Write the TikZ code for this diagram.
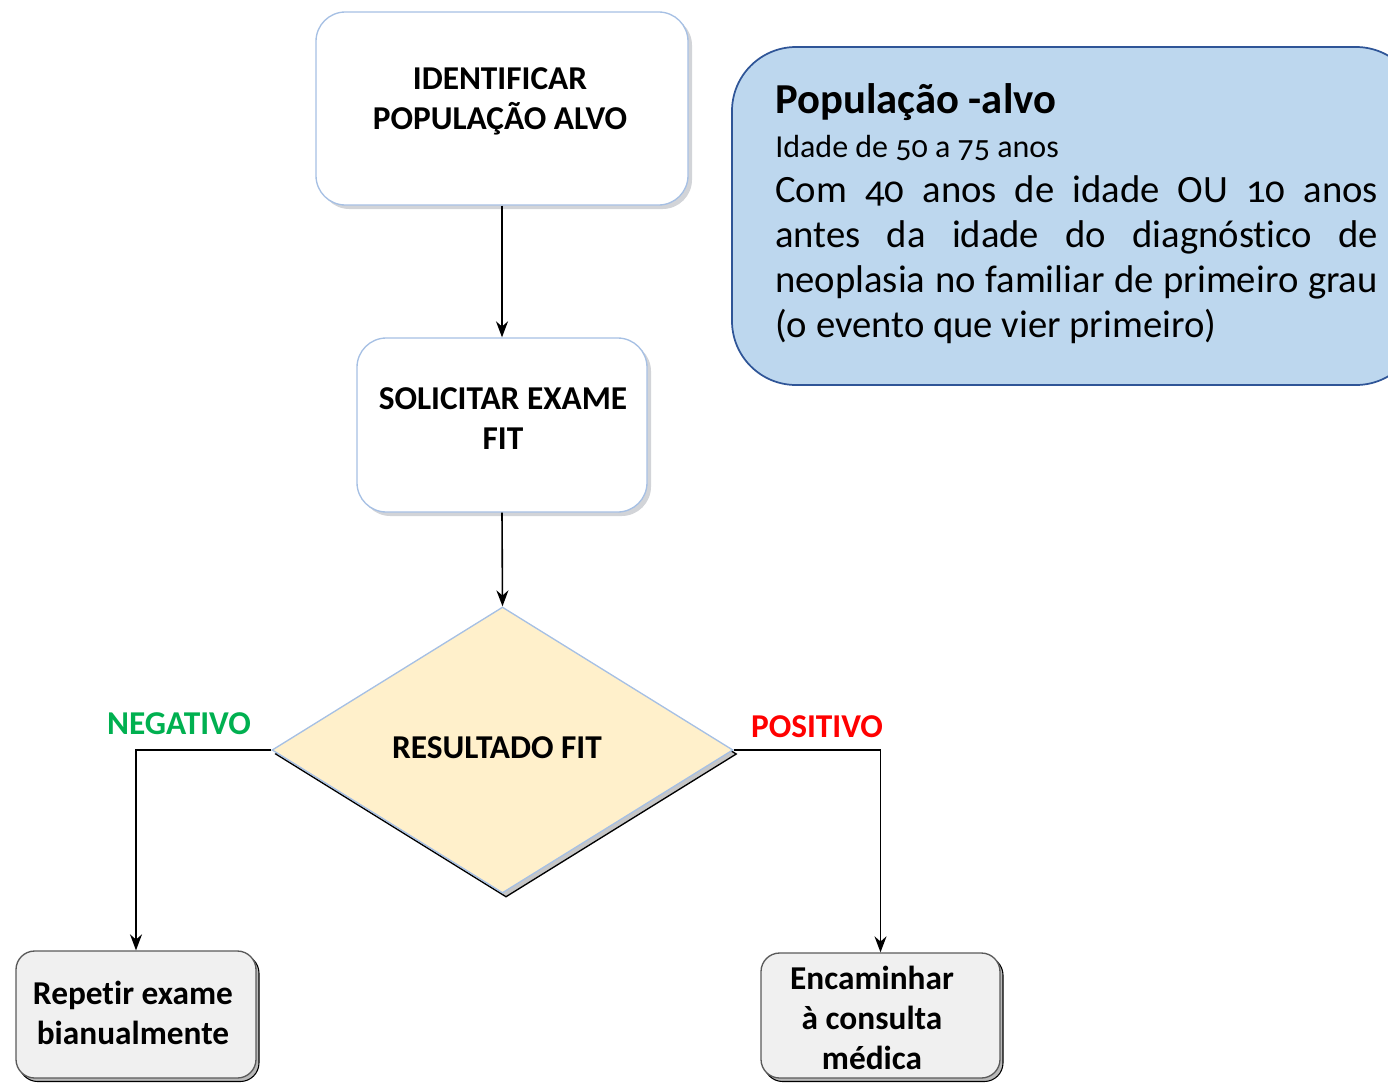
\documentclass[tikz,border=0pt]{standalone}
\usepackage{fontspec}
\setmainfont[Ligatures=NoCommon]{Carlito}
\newfontfamily\oldnum[Numbers=OldStyle,Ligatures=NoCommon]{Carlito}
\usetikzlibrary{shapes.geometric,arrows.meta,calc}

\definecolor{edgeblue}{HTML}{A6C0E4}
\definecolor{boxshadow}{HTML}{D2D4D8}
\definecolor{decisionfill}{HTML}{FFF0CB}
\definecolor{grayfill}{HTML}{F0F0F0}
\definecolor{grayedge}{HTML}{5A5A5A}
\definecolor{notefill}{HTML}{BDD7EE}
\definecolor{noteedge}{HTML}{2F5597}
\definecolor{neggreen}{HTML}{00B050}
\definecolor{posred}{HTML}{FF0000}

\tikzset{
  flow/.style={draw=black, line width=1.2pt, -{Stealth[length=12pt,width=9pt]}},
  stepbox/.style={rectangle, rounded corners=22pt, draw=edgeblue, line width=1pt, fill=white, inner sep=0pt},
  stepshadow/.style={rectangle, rounded corners=22pt, fill=boxshadow, draw=none, inner sep=0pt},
  endbox/.style={rectangle, rounded corners=14pt, draw=grayedge, line width=1pt, fill=grayfill, inner sep=0pt},
  endshadow/.style={rectangle, rounded corners=14pt, draw=black, line width=0.8pt, fill=gray!55, inner sep=0pt},
  boxtext/.style={font=\bfseries\fontsize{25}{30}\selectfont, align=center, inner sep=0pt},
  branch/.style={font=\bfseries\fontsize{25}{28}\selectfont, inner sep=0pt},
}

\begin{document}
\begin{tikzpicture}[x=0.75pt,y=-0.75pt]
\useasboundingbox (0,0) rectangle (1388,1082);
\clip (0,0) rectangle (1388,1082);

% --- first step ---
\node[stepshadow, minimum width=279pt, minimum height=144.75pt] (s1sh) at (506,112.5) {};
\node[stepbox, minimum width=279pt, minimum height=144.75pt] (s1) at (502,108.5) {};
\node[boxtext] (s1t) at (500,101) {IDENTIFICAR\\POPULAÇÃO ALVO};

% --- second step ---
\node[stepshadow, minimum width=217.5pt, minimum height=130.5pt] (s2sh) at (506,429) {};
\node[stepbox, minimum width=217.5pt, minimum height=130.5pt] (s2) at (502,425) {};
\node[boxtext] (s2t) at (503,419) {SOLICITAR EXAME\\FIT};

% --- decision ---
\node[diamond, draw=black, line width=1pt, fill=gray!45, minimum width=345.75pt, minimum height=214.5pt, inner sep=0pt] (dsh) at (506,754) {};
\node[diamond, draw=edgeblue, line width=1pt, fill=decisionfill, minimum width=345.75pt, minimum height=214.5pt, inner sep=0pt] (dec) at (502.5,750) {};
\node[boxtext] (dect) at (497,748) {RESULTADO FIT};

% --- outcomes ---
\node[endshadow, minimum width=180pt, minimum height=95.25pt] (negsh) at (139,1018) {};
\node[endbox, minimum width=180pt, minimum height=95.25pt] (neg) at (136,1014.5) {};
\node[boxtext] (negt) at (133,1013) {Repetir exame\\bianualmente};

\node[endshadow, minimum width=179.25pt, minimum height=93.75pt] (possh) at (883.5,1019) {};
\node[endbox, minimum width=179.25pt, minimum height=93.75pt] (pos) at (880.5,1015.5) {};
\node[boxtext] (post) at (872,1018) {Encaminhar\\à consulta\\médica};

% --- connectors ---
\draw[flow] (s1.south) -- (s2.north);
\draw[flow] (s2.south) -- (dec.north);
\draw[flow] (dec.west) -| (neg.north);
\draw[flow] (dec.east) -| (pos.north);

\node[branch, text=neggreen] (negl) at (179,724) {NEGATIVO};
\node[branch, text=posred] (posl) at (817,727) {POSITIVO};

% --- target population note ---
\node[rectangle, rounded corners=48pt, draw=noteedge, line width=1.3pt, fill=notefill,
      minimum width=516pt, minimum height=253.5pt, inner sep=0pt] (note) at (1076,216) {};
\node[anchor=base west, inner sep=0pt, font=\bfseries\fontsize{32}{36}\selectfont] (nt1) at (775,113) {População -alvo};
\node[anchor=base west, inner sep=0pt, font=\oldnum\fontsize{24}{28}\selectfont] (nt2) at (775,157) {Idade de 50 a 75 anos};
\node[anchor=north west, inner sep=0pt, font=\oldnum\fontsize{29}{33.75}\selectfont, align=left] (nt3) at (775,175) {%
\makebox[452pt][s]{Com 40 anos de idade OU 10 anos}\\
\makebox[452pt][s]{antes da idade do diagnóstico de}\\
\makebox[452pt][s]{neoplasia no familiar de primeiro grau}\\
(o evento que vier primeiro)};
\end{tikzpicture}
\end{document}
